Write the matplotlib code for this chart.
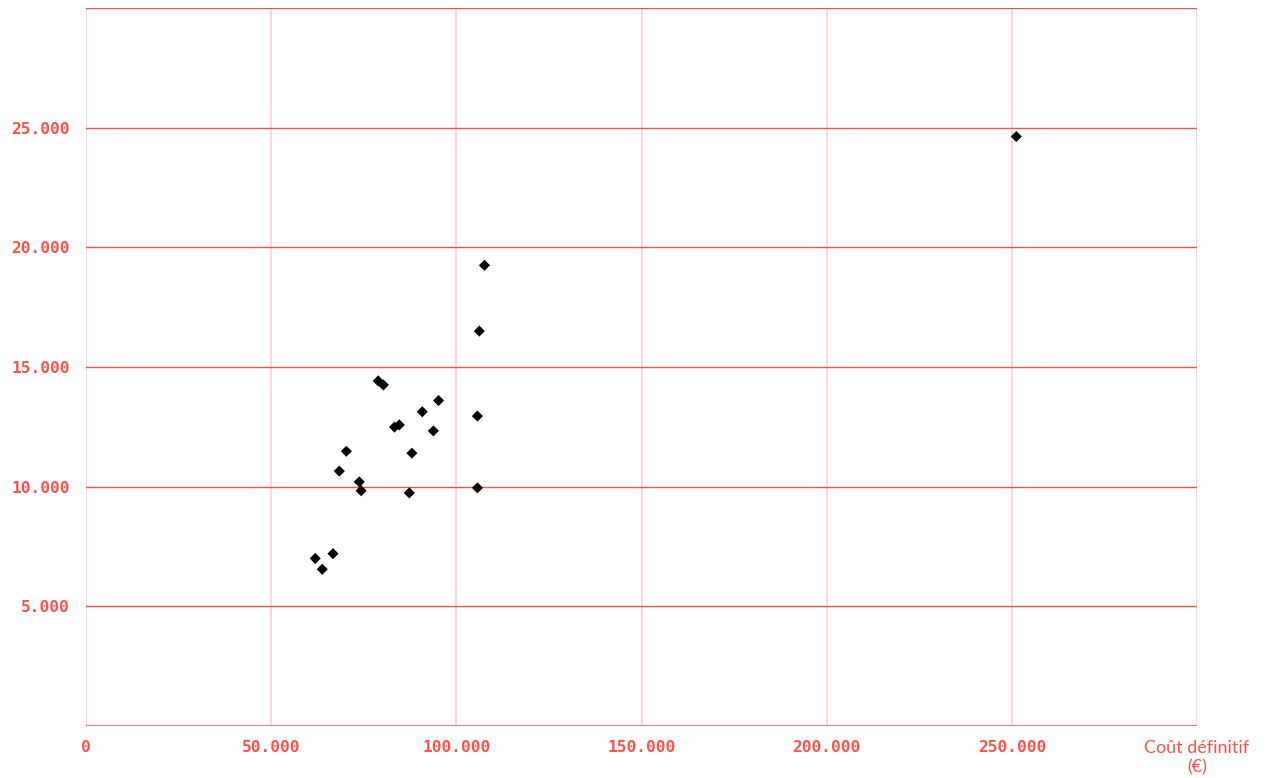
import matplotlib
matplotlib.use("Agg")
import matplotlib.pyplot as plt

# Final cost (€) vs. second measure for each project
cout_definitif = [61900, 63800, 66700, 68400, 70300, 73800, 74300, 78900, 80300,
                  83300, 84600, 87300, 88000, 90800, 93800, 95200, 105700,
                  105700, 106200, 107600, 251200]
valeur = [7000, 6550, 7200, 10650, 11480, 10200, 9830, 14420, 14250,
          12490, 12580, 9740, 11400, 13130, 12330, 13600, 12950,
          9950, 16500, 19250, 24630]

x_ticks = [0, 50000, 100000, 150000, 200000, 250000, 300000]
y_ticks = [5000, 10000, 15000, 20000, 25000, 30000]
x_title = "Coût définitif\n(€)"

RED = "#ff5147"
GRID_H = "#f2554c"
GRID_V = "#ffcfcf"

fig = plt.figure(figsize=(12.71, 7.78), dpi=100)
ax = fig.add_axes([86 / 1271, 52 / 778, (1197 - 86) / 1271, (726 - 8) / 778])

ax.set_xlim(0, 300000)
ax.set_ylim(0, 30000)

for s in ax.spines.values():
    s.set_visible(False)

# grid lines
for xv in x_ticks:
    ax.axvline(xv, color=GRID_V, lw=1.2, zorder=1)
for yv in y_ticks:
    ax.axhline(yv, color=GRID_H, lw=1.0, zorder=2)
ax.axhline(0, color="#ff7a70", lw=1.5, zorder=2)

ax.scatter(cout_definitif, valeur, marker="D", s=32, color="black",
           edgecolors="none", zorder=3)

def fmt(v):
    return f"{int(v):,}".replace(",", ".")

ax.set_xticks(x_ticks)
ax.set_xticklabels([fmt(v) for v in x_ticks[:-1]] + [x_title], va="top")
ax.set_yticks(y_ticks[:-1])
ax.set_yticklabels([fmt(v) for v in y_ticks[:-1]])

ax.tick_params(axis="both", length=0, colors=RED)
ax.tick_params(axis="x", pad=10)
ax.tick_params(axis="y", pad=11.5)
for lab in ax.get_xticklabels() + ax.get_yticklabels():
    lab.set_fontfamily("DejaVu Sans Mono")
    lab.set_fontsize(11.7)
    lab.set_fontweight("bold")
    lab.set_color(RED)
last = ax.get_xticklabels()[-1]
last.set_fontfamily("Lato")
last.set_fontweight("normal")
last.set_fontsize(13)
last.set_linespacing(1.25)

fig.savefig("out.png", dpi=100, facecolor="white")
